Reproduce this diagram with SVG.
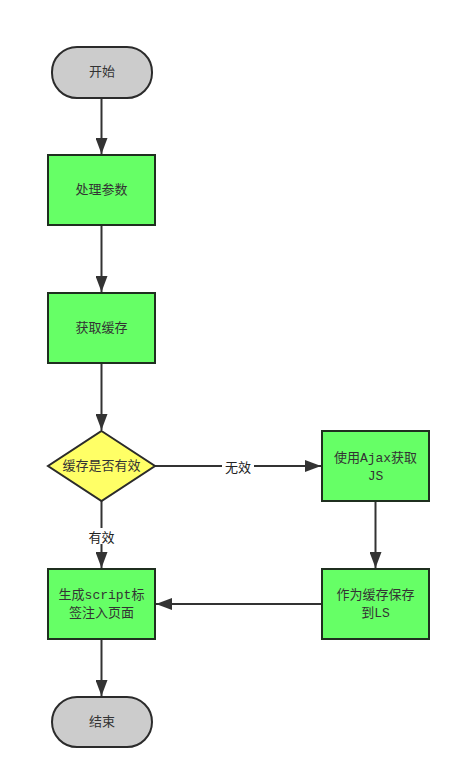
<svg xmlns="http://www.w3.org/2000/svg" width="461" height="779" viewBox="0 0 461 779">
<defs>
<style>
.term{fill:#cccccc;stroke:#2b2b2b;stroke-width:2}
.proc{fill:#66ff66;stroke:#1f2f1f;stroke-width:2}
.dec{fill:#ffff66;stroke:#2b2b2b;stroke-width:2}
.t{font-family:"Liberation Mono","Noto Sans CJK SC",monospace;font-size:13px;fill:#333333;text-anchor:middle;dominant-baseline:central}
.lbl{font-family:"Noto Sans CJK SC",sans-serif;font-size:13px;fill:#222222;text-anchor:middle;dominant-baseline:central}
.c{fill:none;stroke:#333333;stroke-width:2}
</style>
<marker id="arr" viewBox="0 0 16 12" refX="16" refY="6" markerWidth="16" markerHeight="12" markerUnits="userSpaceOnUse" orient="auto">
<path d="M0,0 L16,6 L0,12 Z" fill="#333333"/>
</marker>
</defs>
<rect width="461" height="779" fill="#ffffff"/>
<g id="connectors">
<line class="c" x1="101.5" y1="98" x2="101.5" y2="154" marker-end="url(#arr)"/>
<line class="c" x1="101.5" y1="225" x2="101.5" y2="292" marker-end="url(#arr)"/>
<line class="c" x1="101.5" y1="363" x2="101.5" y2="430" marker-end="url(#arr)"/>
<line class="c" x1="155" y1="466" x2="321" y2="466" marker-end="url(#arr)"/>
<line class="c" x1="101.5" y1="501" x2="101.5" y2="568" marker-end="url(#arr)"/>
<line class="c" x1="375.5" y1="501" x2="375.5" y2="568" marker-end="url(#arr)"/>
<line class="c" x1="322" y1="604" x2="156" y2="604" marker-end="url(#arr)"/>
<line class="c" x1="101.5" y1="639" x2="101.5" y2="696" marker-end="url(#arr)"/>
<rect x="222" y="458" width="32" height="16" fill="#ffffff"/>
<text class="lbl" x="238" y="466">无效</text>
<rect x="85" y="528" width="32" height="16" fill="#ffffff"/>
<text class="lbl" x="101.5" y="536">有效</text>
</g>
<g id="start">
<rect class="term" x="52" y="47" width="100" height="51" rx="25" ry="25"/>
<text class="t" x="102" y="72.5">开始</text>
</g>
<g id="process-params">
<rect class="proc" x="48" y="155" width="107" height="70"/>
<text class="t" x="101.5" y="190">处理参数</text>
</g>
<g id="get-cache">
<rect class="proc" x="48" y="293" width="107" height="70"/>
<text class="t" x="101.5" y="328">获取缓存</text>
</g>
<g id="cache-valid">
<polygon class="dec" points="101.5,431 155,466 101.5,501 48,466"/>
<text class="t" x="101.5" y="466">缓存是否有效</text>
</g>
<g id="ajax-js">
<rect class="proc" x="322" y="431" width="107" height="70"/>
<text class="t" x="375.5" y="458">使用Ajax获取</text>
<text class="t" x="375.5" y="476">JS</text>
</g>
<g id="save-ls">
<rect class="proc" x="322" y="569" width="107" height="70"/>
<text class="t" x="375.5" y="595">作为缓存保存</text>
<text class="t" x="375.5" y="613">到LS</text>
</g>
<g id="inject-script">
<rect class="proc" x="48" y="569" width="107" height="70"/>
<text class="t" x="101.5" y="595">生成script标</text>
<text class="t" x="101.5" y="613">签注入页面</text>
</g>
<g id="end">
<rect class="term" x="52" y="697" width="100" height="50" rx="25" ry="25"/>
<text class="t" x="102" y="722">结束</text>
</g>
</svg>
